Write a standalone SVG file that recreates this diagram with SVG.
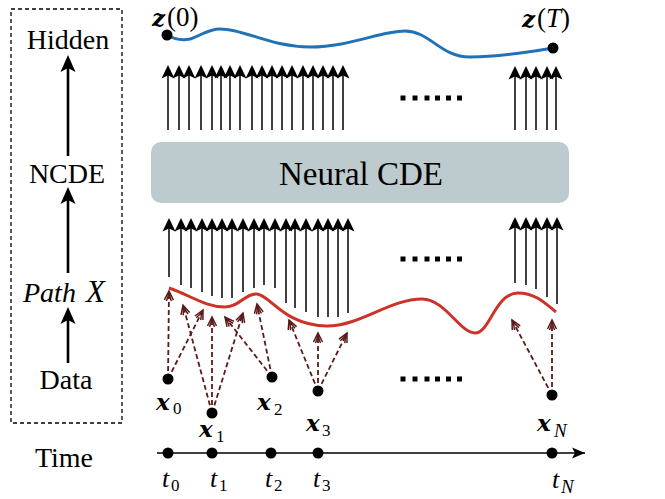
<svg xmlns="http://www.w3.org/2000/svg" xmlns:xlink="http://www.w3.org/1999/xlink" width="665" height="499" viewBox="0 0 665 499">
<style>
.lbl{font-family:"Liberation Serif","Times New Roman",serif;font-size:28px;fill:#000}
.it{font-style:italic}
.bx{font-family:"DejaVu Serif",serif;font-weight:bold;font-style:italic;font-size:23px;fill:#000}
.sub{font-family:"Liberation Serif",serif;font-size:17px;fill:#000}
.subn{font-family:"Liberation Serif",serif;font-style:italic;font-size:19px;fill:#000}
.tt{font-family:"Liberation Serif",serif;font-style:italic;font-size:26px;fill:#000}
.par{font-family:"Liberation Serif",serif;font-size:27px;fill:#000}
.big-title{font-family:"Liberation Serif","Times New Roman",serif;font-size:33px;fill:#000}
.up{stroke:#000;stroke-width:1.5;fill:none;marker-end:url(#ah)}
.big{stroke:#000;stroke-width:2.6;fill:none;marker-end:url(#bh)}
.da{stroke:#5b1b1b;stroke-width:1.8;stroke-dasharray:5 3;fill:none;marker-end:url(#dh)}
.dot{fill:#000}
</style>
<defs>
<marker id="ah" viewBox="-8 -7 16 14" refX="0" refY="0" markerWidth="16" markerHeight="14" markerUnits="userSpaceOnUse" orient="auto">
<path d="M6,0 L-7.5,-6.5 L-4.5,0 L-7.5,6.5 Z" fill="#000"/>
</marker>
<marker id="bh" viewBox="-10 -8 20 16" refX="0" refY="0" markerWidth="20" markerHeight="16" markerUnits="userSpaceOnUse" orient="auto">
<path d="M8,0 L-9,-7.5 L-5,0 L-9,7.5 Z" fill="#000"/>
</marker>
<marker id="dh" viewBox="-11 -6 13 12" refX="0" refY="0" markerWidth="13" markerHeight="12" markerUnits="userSpaceOnUse" orient="auto">
<path d="M-9,-4.5 L0,0 L-9,4.5 M-10,-2.5 L-3,0 L-10,2.5" fill="none" stroke="#5b1b1b" stroke-width="1.5"/>
</marker>
<marker id="th" viewBox="-14 -7 16 14" refX="0" refY="0" markerWidth="16" markerHeight="14" markerUnits="userSpaceOnUse" orient="auto">
<path d="M0,0 L-13,-5.5 L-10,0 L-13,5.5 Z" fill="#000"/>
</marker>
<g id="sqs">
<rect x="400.5" y="-2.5" width="5" height="5"/>
<rect x="412.5" y="-2.5" width="5" height="5"/>
<rect x="424.5" y="-2.5" width="5" height="5"/>
<rect x="435" y="-2.5" width="5" height="5"/>
<rect x="446" y="-2.5" width="5" height="5"/>
<rect x="457" y="-2.5" width="5" height="5"/>
</g>
</defs>

<g id="legend">
<rect x="11" y="9" width="111" height="414" fill="none" stroke="#000" stroke-width="1.3" stroke-dasharray="4 3"/>
<text class="lbl" x="68" y="49" text-anchor="middle">Hidden</text>
<text class="lbl" x="67" y="183" text-anchor="middle">NCDE</text>
<text class="lbl it" x="23" y="302">Path<tspan x="86" style="font-size:31px">X</tspan></text>
<text class="lbl" x="66" y="389" text-anchor="middle">Data</text>
<line class="big" x1="68" y1="156" x2="68" y2="63"/>
<line class="big" x1="68" y1="273" x2="68" y2="195"/>
<line class="big" x1="68" y1="363" x2="68" y2="315"/>
</g>
<text id="time-label" class="lbl" x="64" y="467" text-anchor="middle">Time</text>

<g id="hidden-curve">
<path d="M167,35 C174,39 181,41 190,39 C200,36 208,29 220,29 C245,29 270,47 310,47 C350,47 380,31 405,31 C430,31 440,57 470,57 C500,57 530,52 553,48" fill="none" stroke="#1f72b8" stroke-width="3"/>
<circle class="dot" cx="167" cy="35" r="5.5"/>
<circle class="dot" cx="553" cy="48" r="5.5"/>
<text class="bx" x="152" y="26">z</text><text class="par" x="167" y="26">(0)</text>
<text class="bx" x="522" y="27">z</text><text class="par" x="537" y="27">(<tspan style="font-style:italic">T</tspan>)</text>
</g>

<g id="ncde">
<rect x="151" y="142" width="418" height="61" rx="10" ry="10" fill="#bdcace"/>
<text class="big-title" x="361" y="185" text-anchor="middle">Neural CDE</text>
</g>

<g id="path-x">
<path d="M169,288 C190,295 205,307 225,307 C240,307 245,293 257,294 C270,295 285,326 327,326 C360,326 390,299 422,299 C445,299 460,333 475,333 C490,333 495,293 518,293 C535,293 545,303 556,312" fill="none" stroke="#cc3326" stroke-width="3"/>
</g>

<g id="ellipses">
<use xlink:href="#sqs" href="#sqs" y="98"/>
<use xlink:href="#sqs" href="#sqs" y="259"/>
<use xlink:href="#sqs" href="#sqs" y="379"/>
</g>

<g id="connectors">
<g id="top-arrows">
<line class="up" x1="168" y1="130" x2="168" y2="71"/>
<line class="up" x1="179" y1="130" x2="179" y2="71"/>
<line class="up" x1="189" y1="130" x2="189" y2="71"/>
<line class="up" x1="201" y1="130" x2="201" y2="71"/>
<line class="up" x1="212" y1="130" x2="212" y2="71"/>
<line class="up" x1="221" y1="130" x2="221" y2="71"/>
<line class="up" x1="230" y1="130" x2="230" y2="71"/>
<line class="up" x1="240" y1="130" x2="240" y2="71"/>
<line class="up" x1="252" y1="130" x2="252" y2="71"/>
<line class="up" x1="262" y1="130" x2="262" y2="71"/>
<line class="up" x1="272" y1="130" x2="272" y2="71"/>
<line class="up" x1="282" y1="130" x2="282" y2="71"/>
<line class="up" x1="292" y1="130" x2="292" y2="71"/>
<line class="up" x1="303" y1="130" x2="303" y2="71"/>
<line class="up" x1="313" y1="130" x2="313" y2="71"/>
<line class="up" x1="323" y1="130" x2="323" y2="71"/>
<line class="up" x1="333" y1="130" x2="333" y2="71"/>
<line class="up" x1="343" y1="130" x2="343" y2="71"/>
<line class="up" x1="515" y1="130" x2="515" y2="72"/>
<line class="up" x1="526" y1="130" x2="526" y2="72"/>
<line class="up" x1="536" y1="130" x2="536" y2="72"/>
<line class="up" x1="547" y1="130" x2="547" y2="72"/>
<line class="up" x1="556" y1="130" x2="556" y2="72"/>
</g>
<g id="bottom-arrows">
<line class="up" x1="169" y1="277" x2="169" y2="224"/>
<line class="up" x1="181" y1="285" x2="181" y2="224"/>
<line class="up" x1="191" y1="288" x2="191" y2="224"/>
<line class="up" x1="202" y1="292" x2="202" y2="224"/>
<line class="up" x1="212" y1="296" x2="212" y2="224"/>
<line class="up" x1="222" y1="298" x2="222" y2="224"/>
<line class="up" x1="232" y1="298" x2="232" y2="224"/>
<line class="up" x1="243" y1="292" x2="243" y2="224"/>
<line class="up" x1="254" y1="288" x2="254" y2="224"/>
<line class="up" x1="264" y1="285" x2="264" y2="224"/>
<line class="up" x1="275" y1="288" x2="275" y2="224"/>
<line class="up" x1="286" y1="303" x2="286" y2="224"/>
<line class="up" x1="295" y1="308" x2="295" y2="224"/>
<line class="up" x1="306" y1="312" x2="306" y2="224"/>
<line class="up" x1="318" y1="317" x2="318" y2="224"/>
<line class="up" x1="328" y1="317" x2="328" y2="224"/>
<line class="up" x1="338" y1="317" x2="338" y2="224"/>
<line class="up" x1="348" y1="313" x2="348" y2="224"/>
<line class="up" x1="515" y1="283" x2="515" y2="223"/>
<line class="up" x1="526" y1="285" x2="526" y2="223"/>
<line class="up" x1="536" y1="289" x2="536" y2="223"/>
<line class="up" x1="547" y1="297" x2="547" y2="223"/>
<line class="up" x1="557" y1="304" x2="557" y2="223"/>
</g>
<g id="data-arrows">
<line class="da" x1="168" y1="379" x2="169" y2="291"/>
<line class="da" x1="168" y1="379" x2="203" y2="310"/>
<line class="da" x1="212" y1="413" x2="183" y2="305"/>
<line class="da" x1="212" y1="413" x2="212" y2="317"/>
<line class="da" x1="212" y1="413" x2="243" y2="313"/>
<line class="da" x1="272" y1="377" x2="225" y2="317"/>
<line class="da" x1="272" y1="377" x2="257" y2="304"/>
<line class="da" x1="318" y1="391" x2="289" y2="320"/>
<line class="da" x1="318" y1="391" x2="318" y2="333"/>
<line class="da" x1="318" y1="391" x2="347" y2="333"/>
<line class="da" x1="552" y1="395" x2="512" y2="320"/>
<line class="da" x1="552" y1="395" x2="552" y2="320"/>
</g>
<line id="time-axis" x1="157" y1="453" x2="585" y2="453" stroke="#000" stroke-width="1.5" marker-end="url(#th)"/>
</g>

<g id="data-points">
<circle class="dot" cx="168" cy="379" r="5.5"/>
<circle class="dot" cx="212" cy="413" r="5.5"/>
<circle class="dot" cx="272" cy="377" r="5.5"/>
<circle class="dot" cx="318" cy="391" r="5.5"/>
<circle class="dot" cx="552" cy="395" r="5.5"/>
<text class="bx" x="156" y="410">x</text><text class="sub" x="173" y="414">0</text>
<text class="bx" x="199" y="437">x</text><text class="sub" x="216" y="442">1</text>
<text class="bx" x="257" y="410">x</text><text class="sub" x="274" y="415">2</text>
<text class="bx" x="306" y="431">x</text><text class="sub" x="322" y="436">3</text>
<text class="bx" x="537" y="431">x</text><text class="subn" x="554" y="437">N</text>
</g>

<g id="time-points">
<circle class="dot" cx="168" cy="453" r="5.5"/>
<circle class="dot" cx="212" cy="453" r="5.5"/>
<circle class="dot" cx="271" cy="453" r="5.5"/>
<circle class="dot" cx="318" cy="453" r="5.5"/>
<circle class="dot" cx="552" cy="453" r="5.5"/>
<text class="tt" x="162" y="487">t</text><text class="sub" x="171" y="491">0</text>
<text class="tt" x="210" y="487">t</text><text class="sub" x="219" y="491">1</text>
<text class="tt" x="265" y="487">t</text><text class="sub" x="274" y="491">2</text>
<text class="tt" x="313" y="487">t</text><text class="sub" x="322" y="491">3</text>
<text class="tt" x="552" y="488">t</text><text class="subn" x="561" y="493">N</text>
</g>
</svg>
